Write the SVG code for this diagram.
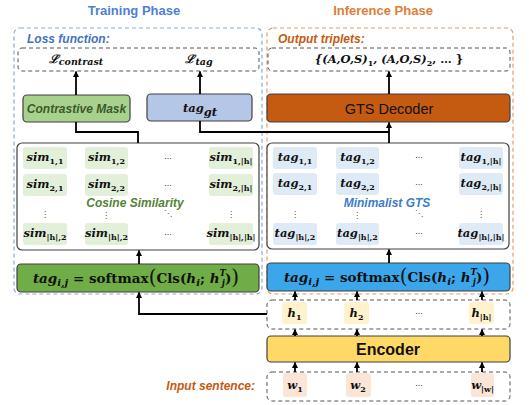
<svg xmlns="http://www.w3.org/2000/svg" width="529" height="405" viewBox="0 0 529 405">
<style>
.ttl{font-family:"Liberation Sans",Arial,sans-serif;font-weight:bold;font-size:13px;text-anchor:middle}
.lbl{font-family:"Liberation Sans",Arial,sans-serif;font-weight:bold;font-style:italic;font-size:12px}
.dash{fill:#fff;stroke:#555;stroke-width:1;stroke-dasharray:4 3}
.box{stroke:#404040;stroke-width:1.2}
.m{font-family:"DejaVu Serif","Liberation Serif",serif;font-weight:bold;font-style:italic;font-size:11.5px;fill:#111;text-anchor:middle}
.s{font-size:8px;font-style:normal}
.dots{font-family:"Liberation Sans",Arial,sans-serif;font-size:9px;fill:#333;text-anchor:middle}
.vd{font-family:"DejaVu Sans",sans-serif;font-size:8px;fill:#5a4a2a;text-anchor:middle}
.cg{fill:#E2F0D9}
.cb{fill:#DEEBF7}
.ch{fill:#FFF2CC}
.cw{fill:#FBE5D6}
.con{fill:none;stroke:#000;stroke-width:1.8}
.f{font-family:"DejaVu Serif","Liberation Serif",serif;font-weight:bold;font-size:13.5px;fill:#111;text-anchor:middle}
</style>
<defs>
<marker id="ah" markerUnits="userSpaceOnUse" markerWidth="6" markerHeight="6" viewBox="0 0 6 6" refX="5.5" refY="3" orient="auto">
<path d="M0,0 L6,3 L0,6 z" fill="#000"/>
</marker>
</defs>

<!-- phase titles -->
<text class="ttl" x="134" y="15" fill="#4E7FD6">Training Phase</text>
<text class="ttl" x="383" y="15" fill="#DD7E3A">Inference Phase</text>

<!-- panels -->
<g id="training-panel">
<rect x="14" y="28" width="248" height="266" rx="6" fill="none" stroke="#8EA9DB" stroke-width="1.2" stroke-dasharray="4 3"/>
</g>
<g id="inference-panel">
<rect x="267" y="28" width="246" height="266" rx="6" fill="none" stroke="#EA9A6A" stroke-width="1.2" stroke-dasharray="4 3"/>
</g>

<!-- loss function -->
<g id="loss">
<text class="lbl" x="27" y="43" fill="#4472C4">Loss function:</text>
<rect class="dash" x="18" y="48" width="241" height="23" rx="4"/>
<text class="m" x="76" y="63" font-size="13"><tspan>ℒ</tspan><tspan font-size="9.5" dy="2">contrast</tspan></text>
<text class="m" x="199" y="63" font-size="13"><tspan>ℒ</tspan><tspan font-size="9.5" dy="2">tag</tspan></text>
</g>

<!-- output triplets -->
<g id="output">
<text class="lbl" x="278" y="43" fill="#C55A11">Output triplets:</text>
<rect class="dash" x="268" y="48" width="242" height="23" rx="4"/>
<text class="m" x="389" y="63" font-size="11.5" fill="#14143a">{(A,O,S)<tspan class="s" dy="3">1</tspan><tspan dy="-3">, (A,O,S)</tspan><tspan class="s" dy="3">2</tspan><tspan dy="-3" font-style="normal">, … }</tspan></text>
</g>

<!-- contrastive mask -->
<g id="contrastive-mask">
<rect class="box" x="23" y="95" width="107" height="27" rx="4" fill="#A9D18E"/>
<text class="lbl" x="76.5" y="113" font-size="12.5" fill="#3B5A2B" text-anchor="middle">Contrastive Mask</text>
</g>

<!-- tag_gt -->
<g id="tag-gt">
<rect class="box" x="147" y="94" width="105" height="27" rx="4" fill="#B4C7E7"/>
<text class="m" x="200" y="112" font-size="15">tag<tspan font-size="11.5" dy="4">gt</tspan></text>
</g>

<!-- GTS decoder -->
<g id="gts-decoder">
<rect class="box" x="267" y="94" width="243" height="28" rx="4" fill="#C55A11"/>
<text x="389" y="114" font-family="Liberation Sans,Arial,sans-serif" font-size="14.5" text-anchor="middle" fill="#111">GTS Decoder</text>
</g>

<!-- cosine similarity grid -->
<g id="cosine-similarity">
<rect class="box" x="17" y="143" width="242" height="107" rx="5" fill="#fff"/>
<rect class="cg" x="23" y="147" width="44" height="22" rx="3"/>
<rect class="cg" x="85" y="147" width="43" height="22" rx="3"/>
<rect class="cg" x="209" y="147" width="44" height="22" rx="3"/>
<rect class="cg" x="23" y="174" width="44" height="22" rx="3"/>
<rect class="cg" x="85" y="174" width="43" height="22" rx="3"/>
<rect class="cg" x="209" y="174" width="44" height="22" rx="3"/>
<rect class="cg" x="23" y="223" width="44" height="22" rx="3"/>
<rect class="cg" x="85" y="223" width="43" height="22" rx="3"/>
<rect class="cg" x="209" y="223" width="44" height="22" rx="3"/>
<text class="m" x="45" y="161">sim<tspan class="s" dy="3">1,1</tspan></text>
<text class="m" x="106.5" y="161">sim<tspan class="s" dy="3">1,2</tspan></text>
<text class="m" x="231" y="161">sim<tspan class="s" dy="3">1,|h|</tspan></text>
<text class="m" x="45" y="188">sim<tspan class="s" dy="3">2,1</tspan></text>
<text class="m" x="106.5" y="188">sim<tspan class="s" dy="3">2,2</tspan></text>
<text class="m" x="231" y="188">sim<tspan class="s" dy="3">2,|h|</tspan></text>
<text class="m" x="45" y="237">sim<tspan class="s" dy="3">|h|,2</tspan></text>
<text class="m" x="106.5" y="237">sim<tspan class="s" dy="3">|h|,2</tspan></text>
<text class="m" x="231" y="237">sim<tspan class="s" dy="3">|h|,|h|</tspan></text>
<text class="dots" x="168" y="159">...</text>
<text class="dots" x="168" y="186">...</text>
<text class="dots" x="168" y="235">...</text>
<text class="vd" x="45" y="217">⋮</text>
<text class="vd" x="106" y="218">⋮</text>
<text class="vd" x="168" y="216" font-size="6">⋱</text>
<text class="vd" x="231" y="217">⋮</text>
<text class="lbl" x="135" y="207" font-size="12.5" fill="#548235" text-anchor="middle">Cosine Similarity</text>
</g>

<!-- minimalist GTS grid -->
<g id="minimalist-gts">
<rect class="box" x="267" y="143" width="242" height="106" rx="5" fill="#fff"/>
<rect class="cb" x="273" y="147" width="44" height="22" rx="3"/>
<rect class="cb" x="336" y="147" width="43" height="22" rx="3"/>
<rect class="cb" x="459" y="147" width="44" height="22" rx="3"/>
<rect class="cb" x="273" y="173" width="44" height="22" rx="3"/>
<rect class="cb" x="336" y="173" width="43" height="22" rx="3"/>
<rect class="cb" x="459" y="173" width="44" height="22" rx="3"/>
<rect class="cb" x="273" y="223" width="44" height="22" rx="3"/>
<rect class="cb" x="336" y="223" width="43" height="22" rx="3"/>
<rect class="cb" x="459" y="223" width="44" height="22" rx="3"/>
<text class="m" x="295" y="161">tag<tspan class="s" dy="3">1,1</tspan></text>
<text class="m" x="357.5" y="161">tag<tspan class="s" dy="3">1,2</tspan></text>
<text class="m" x="481" y="161">tag<tspan class="s" dy="3">1,|h|</tspan></text>
<text class="m" x="295" y="187">tag<tspan class="s" dy="3">2,1</tspan></text>
<text class="m" x="357.5" y="187">tag<tspan class="s" dy="3">2,2</tspan></text>
<text class="m" x="481" y="187">tag<tspan class="s" dy="3">2,|h|</tspan></text>
<text class="m" x="295" y="237">tag<tspan class="s" dy="3">|h|,2</tspan></text>
<text class="m" x="357.5" y="237">tag<tspan class="s" dy="3">|h|,2</tspan></text>
<text class="m" x="481" y="237">tag<tspan class="s" dy="3">|h|,|h|</tspan></text>
<text class="dots" x="419" y="158">...</text>
<text class="dots" x="419" y="185">...</text>
<text class="dots" x="419" y="234">...</text>
<text class="vd" x="295" y="217">⋮</text>
<text class="vd" x="357" y="218">⋮</text>
<text class="vd" x="419" y="216" font-size="6">⋱</text>
<text class="vd" x="481" y="217">⋮</text>
<text class="lbl" x="387" y="207" font-size="12.5" fill="#3D7CC9" text-anchor="middle">Minimalist GTS</text>
</g>

<!-- softmax boxes -->
<g id="softmax-train">
<rect class="box" x="17" y="264" width="242" height="28" rx="4" fill="#70AD47"/>
<text class="f" x="136" y="283"><tspan font-style="italic">tag</tspan><tspan font-style="italic" font-size="10" dy="3">i,j</tspan><tspan dy="-3"> = softmax</tspan><tspan font-size="20" font-weight="normal" dy="1">(</tspan><tspan dy="-1">Cls(</tspan><tspan font-style="italic">h</tspan><tspan font-style="italic" font-size="10" dy="3">i</tspan><tspan dy="-3">; </tspan><tspan font-style="italic">h</tspan><tspan font-style="italic" font-size="8.5" dy="-7">T</tspan><tspan font-style="italic" font-size="8.5" dx="-4" dy="10">j</tspan><tspan dy="-3">)</tspan><tspan font-size="20" font-weight="normal" dy="1">)</tspan></text>
</g>
<g id="softmax-infer">
<rect class="box" x="267" y="263" width="243" height="28" rx="4" fill="#3BA7EA"/>
<text class="f" x="387" y="282"><tspan font-style="italic">tag</tspan><tspan font-style="italic" font-size="10" dy="3">i,j</tspan><tspan dy="-3"> = softmax</tspan><tspan font-size="20" font-weight="normal" dy="1">(</tspan><tspan dy="-1">Cls(</tspan><tspan font-style="italic">h</tspan><tspan font-style="italic" font-size="10" dy="3">i</tspan><tspan dy="-3">; </tspan><tspan font-style="italic">h</tspan><tspan font-style="italic" font-size="8.5" dy="-7">T</tspan><tspan font-style="italic" font-size="8.5" dx="-4" dy="10">j</tspan><tspan dy="-3">)</tspan><tspan font-size="20" font-weight="normal" dy="1">)</tspan></text>
</g>

<!-- hidden states row -->
<g id="hidden-states">
<rect class="dash" x="267" y="300" width="243" height="29" rx="5"/>
<rect class="ch" x="282" y="302" width="25" height="22" rx="3"/>
<rect class="ch" x="344" y="302" width="25" height="22" rx="3"/>
<rect class="ch" x="469" y="302" width="25" height="22" rx="3"/>
<text class="m" x="294.5" y="317">h<tspan class="s" dy="3">1</tspan></text>
<text class="m" x="356.5" y="317">h<tspan class="s" dy="3">2</tspan></text>
<text class="m" x="481.5" y="317">h<tspan class="s" dy="3">|h|</tspan></text>
<text class="dots" x="419" y="314">...</text>
</g>

<!-- encoder -->
<g id="encoder">
<rect class="box" x="267" y="336" width="243" height="26" rx="4" fill="#FFD966"/>
<text x="388" y="355" font-family="Liberation Sans,Arial,sans-serif" font-weight="bold" font-size="16" text-anchor="middle" fill="#111">Encoder</text>
</g>

<!-- input words -->
<g id="input-words">
<text class="lbl" x="255" y="390" fill="#C55A11" text-anchor="end">Input sentence:</text>
<rect class="dash" x="267" y="372" width="243" height="29" rx="5"/>
<rect class="cw" x="283" y="373" width="24" height="24" rx="3"/>
<rect class="cw" x="346" y="373" width="25" height="24" rx="3"/>
<rect class="cw" x="471" y="373" width="23" height="24" rx="3"/>
<text class="m" x="295" y="389">w<tspan class="s" dy="3">1</tspan></text>
<text class="m" x="358" y="389">w<tspan class="s" dy="3">2</tspan></text>
<text class="m" x="482.5" y="389">w<tspan class="s" dy="3">|w|</tspan></text>
<text class="dots" x="419" y="386">...</text>
</g>

<!-- connectors -->
<g id="connectors">
<path class="con" d="M76,95 V71.5" marker-end="url(#ah)"/>
<path class="con" d="M200,94 V71.5" marker-end="url(#ah)"/>
<path class="con" d="M389,94 V71.5" marker-end="url(#ah)"/>
<path class="con" d="M76,122 V132 H138 V143"/>
<path class="con" d="M200,121 V132 H389"/>
<path class="con" d="M389,143 V122.5" marker-end="url(#ah)"/>
<path class="con" d="M139,264 V250.5" marker-end="url(#ah)"/>
<path class="con" d="M389,263 V249.5" marker-end="url(#ah)"/>
<path class="con" d="M267,314 H139 V292.5" marker-end="url(#ah)"/>
<path class="con" d="M295,300 V291.5" marker-end="url(#ah)"/>
<path class="con" d="M357,300 V291.5" marker-end="url(#ah)"/>
<path class="con" d="M482,300 V291.5" marker-end="url(#ah)"/>
<path class="con" d="M295,336 V329.5" marker-end="url(#ah)"/>
<path class="con" d="M357,336 V329.5" marker-end="url(#ah)"/>
<path class="con" d="M482,336 V329.5" marker-end="url(#ah)"/>
<path class="con" d="M295,372 V362.5" marker-end="url(#ah)"/>
<path class="con" d="M357,372 V362.5" marker-end="url(#ah)"/>
<path class="con" d="M482,372 V362.5" marker-end="url(#ah)"/>
</g>
</svg>
